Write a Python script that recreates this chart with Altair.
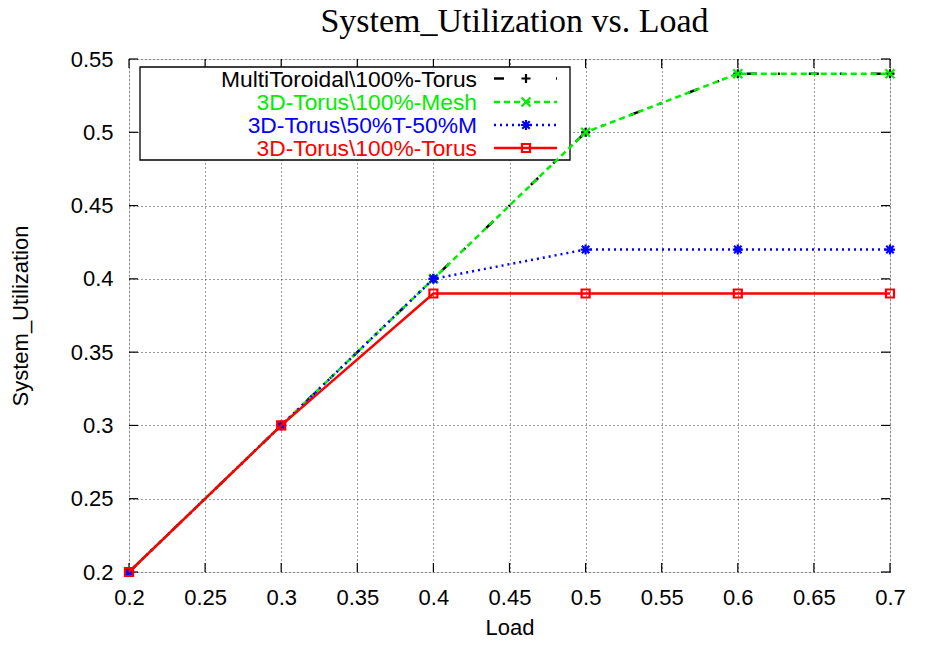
import altair as alt
import pandas as pd

# ---- data ----
loads = [0.2, 0.3, 0.4, 0.5, 0.6, 0.7]
multitoroidal_torus = [0.2, 0.3, 0.4, 0.5, 0.54, 0.54]
torus3d_mesh = [0.2, 0.3, 0.4, 0.5, 0.54, 0.54]
torus3d_half = [0.2, 0.3, 0.4, 0.42, 0.42, 0.42]
torus3d_torus = [0.2, 0.3, 0.39, 0.39, 0.39, 0.39]

series_names = [
    "MultiToroidal\\100%-Torus",
    "3D-Torus\\100%-Mesh",
    "3D-Torus\\50%T-50%M",
    "3D-Torus\\100%-Torus",
]
series_values = [multitoroidal_torus, torus3d_mesh, torus3d_half, torus3d_torus]

x_ticks = [0.2, 0.25, 0.3, 0.35, 0.4, 0.45, 0.5, 0.55, 0.6, 0.65, 0.7]
y_ticks = [0.2, 0.25, 0.3, 0.35, 0.4, 0.45, 0.5, 0.55]

chart_title = "System_Utilization vs. Load"

# ---- styles ----
colors = ["#000000", "#00ee00", "#0000ff", "#ff0000"]
dashes = [[10, 21, 2, 29], [6, 4], [2, 4], None]
PLUS = "M-1,0L1,0M0,-1L0,1"
XSHAPE = "M-1,-1L1,1M-1,1L1,-1"
STAR = "M-1,0L1,0M0,-1L0,1M-0.75,-0.75L0.75,0.75M-0.75,0.75L0.75,-0.75"
shapes = [PLUS, XSHAPE, STAR, "square"]
sizes = [81, 81, 100, 64]

W, H = 761, 513
SANS = "Liberation Sans"

rows = []
for name, vals in zip(series_names, series_values):
    for l, v in zip(loads, vals):
        rows.append({"load": l, "util": v, "series": name})
df = pd.DataFrame(rows)

xscale = alt.Scale(domain=[0.2, 0.7], nice=False, zero=False)
yscale = alt.Scale(domain=[0.2, 0.55], nice=False, zero=False)

xaxis = alt.Axis(
    values=x_ticks, format=".2~f", grid=True, gridColor="#333333", gridDash=[1, 3],
    gridWidth=1, gridOpacity=1, ticks=False, tickSize=0, domain=False,
    labelFont=SANS, labelFontSize=22, labelColor="black", labelPadding=32,
    labelBaseline="alphabetic", labelFlush=False, labelOverlap=False,
    title="Load", titleFont=SANS, titleFontSize=22, titleFontWeight="normal",
    titleColor="black", titleX=380.5, titleY=62, titleBaseline="alphabetic",
    titleAlign="center", titleAngle=0,
)
yaxis = alt.Axis(
    values=y_ticks, format=".2~f", grid=True, gridColor="#333333", gridDash=[1, 3],
    gridWidth=1, gridOpacity=1, ticks=False, tickSize=0, domain=False,
    labelFont=SANS, labelFontSize=22, labelColor="black", labelPadding=16,
    labelFlush=False, labelOverlap=False,
    title="System_Utilization", titleFont=SANS, titleFontSize=22,
    titleFontWeight="normal", titleColor="black", titleX=-102, titleY=256.5,
    titleAngle=270, titleAlign="center", titleBaseline="alphabetic",
)

X = alt.X("load:Q", scale=xscale, axis=xaxis)
Y = alt.Y("util:Q", scale=yscale, axis=yaxis)

one = pd.DataFrame({"k": [0]})

layers = []

# invisible base layer carrying the axes
layers.append(alt.Chart(df).mark_point(opacity=0).encode(x=X, y=Y))

# chart title as a text mark above the plot
layers.append(alt.Chart(one).mark_text(
    text=chart_title, align="center", baseline="alphabetic",
    font="Liberation Serif", fontSize=34, color="black").encode(
    x=alt.value(W / 2 + 5), y=alt.value(-27)))

# inward ticks on all four borders
xt = pd.DataFrame({"load": x_ticks})
yt = pd.DataFrame({"util": y_ticks})
layers.append(alt.Chart(xt).mark_rule(color="black", strokeWidth=1.2).encode(
    x=X, y=alt.value(H), y2=alt.value(H - 9)))
layers.append(alt.Chart(xt).mark_rule(color="black", strokeWidth=1.2).encode(
    x=X, y=alt.value(0), y2=alt.value(9)))
layers.append(alt.Chart(yt).mark_rule(color="black", strokeWidth=1.2).encode(
    y=Y, x=alt.value(0), x2=alt.value(9)))
layers.append(alt.Chart(yt).mark_rule(color="black", strokeWidth=1.2).encode(
    y=Y, x=alt.value(W), x2=alt.value(W - 9)))

# legend box
layers.append(alt.Chart(one).mark_rect(fill="white", stroke="black", strokeWidth=1.3).encode(
    x=alt.value(11), x2=alt.value(441), y=alt.value(8), y2=alt.value(101)))

text_baselines = [28, 51, 74, 97]
sample_y = [19.5, 43, 66, 89]
for i, name in enumerate(series_names):
    layers.append(alt.Chart(one).mark_text(
        text=name, align="right", baseline="alphabetic", font=SANS, fontSize=22.8,
        color=colors[i]).encode(x=alt.value(348), y=alt.value(text_baselines[i])))
    rule_kw = dict(color=colors[i], strokeWidth=2.5)
    if dashes[i] is not None:
        rule_kw["strokeDash"] = dashes[i]
    layers.append(alt.Chart(one).mark_rule(**rule_kw).encode(
        x=alt.value(365), x2=alt.value(428), y=alt.value(sample_y[i])))
    layers.append(alt.Chart(one).mark_point(
        shape=shapes[i], size=sizes[i], filled=False, stroke=colors[i],
        strokeWidth=2.2, opacity=1).encode(x=alt.value(397), y=alt.value(sample_y[i])))

# data series
for i, name in enumerate(series_names):
    sub = alt.Chart(df).transform_filter(alt.datum.series == name)
    line_kw = dict(color=colors[i], strokeWidth=2.5)
    if dashes[i] is not None:
        line_kw["strokeDash"] = dashes[i]
    layers.append(sub.mark_line(**line_kw).encode(x=X, y=Y))
    layers.append(sub.mark_point(
        shape=shapes[i], size=sizes[i], filled=False, stroke=colors[i],
        strokeWidth=2.2, opacity=1).encode(x=X, y=Y))

chart = alt.layer(*layers).properties(
    width=W, height=H,
    padding={"left": 121, "top": 51, "right": 27, "bottom": 66},
    autosize="none",
).configure_view(stroke="black", strokeWidth=1.5).configure(background="white")

chart.save("out.html", embed_options={"renderer": "svg", "actions": False})
